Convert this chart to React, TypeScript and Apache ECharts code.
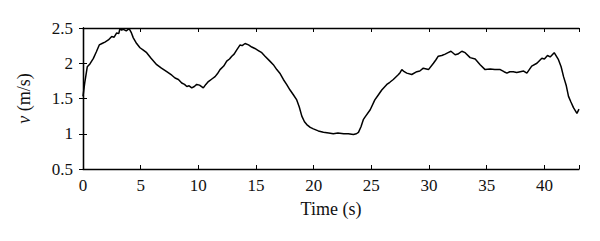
import React, { useEffect, useRef } from "react";
import * as echarts from "echarts";

const timeS = [
  0, 0.15, 0.37, 0.6, 0.9, 1.15, 1.41, 1.65, 1.9, 2.2, 2.49, 2.7, 2.92, 3.1, 3.2, 3.35, 3.5, 3.75, 4.0, 4.2,
  4.36, 4.65, 4.94, 5.2, 5.52, 5.9, 6.39, 6.8, 7.26, 7.7, 7.98, 8.27, 8.56, 8.8, 9.0, 9.2, 9.43, 9.65, 9.86,
  10.1, 10.43, 10.65, 10.87, 11.2, 11.45, 11.65, 11.88, 12.2, 12.46, 12.7, 12.9, 13.1, 13.33, 13.62, 13.8,
  14.05, 14.35, 14.63, 14.9, 15.2, 15.5, 15.78, 16.2, 16.5, 16.8, 17.1, 17.37, 17.65, 17.95, 18.25, 18.53,
  18.75, 18.97, 19.2, 19.4, 19.7, 19.97, 20.4, 20.84, 21.3, 21.7, 22.1, 22.6, 23.0, 23.44, 23.7, 23.88, 24.1,
  24.3, 24.46, 24.9, 25.3, 25.6, 25.9, 26.34, 26.6, 26.9, 27.35, 27.5, 27.64, 27.85, 28.07, 28.5, 28.94,
  29.2, 29.5, 29.95, 30.38, 30.6, 30.8, 31.1, 31.4, 31.65, 31.9, 32.26, 32.5, 32.84, 33.13, 33.56, 34.0,
  34.43, 34.86, 35.3, 35.7, 36.17, 36.5, 36.75, 37.0, 37.3, 37.6, 37.9, 38.2, 38.48, 38.9, 39.35, 39.78,
  40.0, 40.27, 40.5, 40.85, 41.22, 41.45, 41.66, 41.9, 42.09, 42.3, 42.52, 42.82, 43.0,
];

const speedMs = [
  1.53, 1.72, 1.95, 1.99, 2.07, 2.16, 2.26, 2.28, 2.3, 2.33, 2.38, 2.37, 2.43, 2.42, 2.49, 2.47, 2.48,
  2.46, 2.49, 2.43, 2.36, 2.28, 2.22, 2.19, 2.15, 2.07, 1.98, 1.93, 1.88, 1.83, 1.79, 1.77, 1.72, 1.7, 1.67,
  1.68, 1.65, 1.67, 1.7, 1.69, 1.65, 1.7, 1.74, 1.78, 1.81, 1.85, 1.91, 1.96, 2.03, 2.06, 2.1, 2.13, 2.19,
  2.26, 2.25, 2.28, 2.26, 2.23, 2.21, 2.18, 2.15, 2.1, 2.03, 1.98, 1.91, 1.85, 1.77, 1.7, 1.62, 1.55, 1.48,
  1.38, 1.25, 1.17, 1.13, 1.09, 1.07, 1.04, 1.02, 1.01, 1.0, 1.01, 1.0, 1.0, 0.99, 1.0, 1.02, 1.1, 1.2, 1.24,
  1.34, 1.48, 1.55, 1.62, 1.7, 1.73, 1.77, 1.84, 1.87, 1.91, 1.88, 1.86, 1.84, 1.88, 1.89, 1.93, 1.91, 2.0,
  2.05, 2.1, 2.11, 2.13, 2.15, 2.17, 2.12, 2.13, 2.17, 2.15, 2.08, 2.06, 1.98, 1.91, 1.92, 1.91, 1.91, 1.88,
  1.86, 1.88, 1.88, 1.87, 1.88, 1.89, 1.86, 1.96, 2.0, 2.07, 2.06, 2.11, 2.09, 2.15, 2.05, 1.95, 1.81, 1.68,
  1.53, 1.45, 1.37, 1.29, 1.35,
];

const xTicks = [0, 5, 10, 15, 20, 25, 30, 35, 40];
const yTicks = [0.5, 1, 1.5, 2, 2.5];

const FONT = "Liberation Serif";

export default function App() {
  const ref = useRef<HTMLDivElement>(null);
  useEffect(() => {
    if (!ref.current) return;
    const chart = echarts.init(ref.current, null, { renderer: "svg" });
    const axisLine = { show: true, lineStyle: { color: "#000", width: 1.3 } };
    const tick = { show: true, inside: true, length: 4, lineStyle: { color: "#000", width: 1 } };
    const label = { color: "#111", fontFamily: FONT, fontSize: 17 };
    chart.setOption({
      animation: false,
      grid: { left: 83, right: 21, top: 28, bottom: 72 },
      xAxis: [
        {
          type: "value",
          min: 0,
          max: 43,
          interval: 5,
          axisLine,
          axisTick: tick,
          splitLine: { show: false },
          axisLabel: {
            ...label,
            margin: 8,
            formatter: (v: number) => (xTicks.includes(v) ? String(v) : ""),
          },
          name: "Time (s)",
          nameLocation: "middle",
          nameGap: 31,
          nameTextStyle: { color: "#111", fontFamily: FONT, fontSize: 18 },
        },
        {
          type: "value",
          position: "top",
          min: 0,
          max: 43,
          interval: 5,
          axisLine,
          axisTick: tick,
          splitLine: { show: false },
          axisLabel: { show: false },
        },
      ],
      yAxis: [
        {
          type: "value",
          min: 0.5,
          max: 2.5,
          interval: 0.5,
          axisLine,
          axisTick: tick,
          splitLine: { show: false },
          axisLabel: {
            ...label,
            margin: 10,
            formatter: (v: number) => (yTicks.includes(v) ? String(v) : ""),
          },
          name: "{i|v} (m/s)",
          nameLocation: "middle",
          nameGap: 50,
          nameTextStyle: {
            color: "#111",
            fontFamily: FONT,
            fontSize: 18,
            rich: { i: { fontStyle: "italic", fontFamily: FONT, fontSize: 18, color: "#111" } },
          },
        },
        {
          type: "value",
          position: "right",
          min: 0.5,
          max: 2.5,
          interval: 0.5,
          axisLine,
          axisTick: tick,
          splitLine: { show: false },
          axisLabel: { show: false },
        },
      ],
      series: [
        {
          type: "line",
          data: timeS.map((t, i) => [t, speedMs[i]]),
          showSymbol: false,
          lineStyle: { color: "#000", width: 1.5 },
          clip: true,
        },
      ],
    });
    return () => chart.dispose();
  }, []);
  return <div ref={ref} style={{ width: 600, height: 241, position: "absolute", left: 0, top: 0 }} />;
}
